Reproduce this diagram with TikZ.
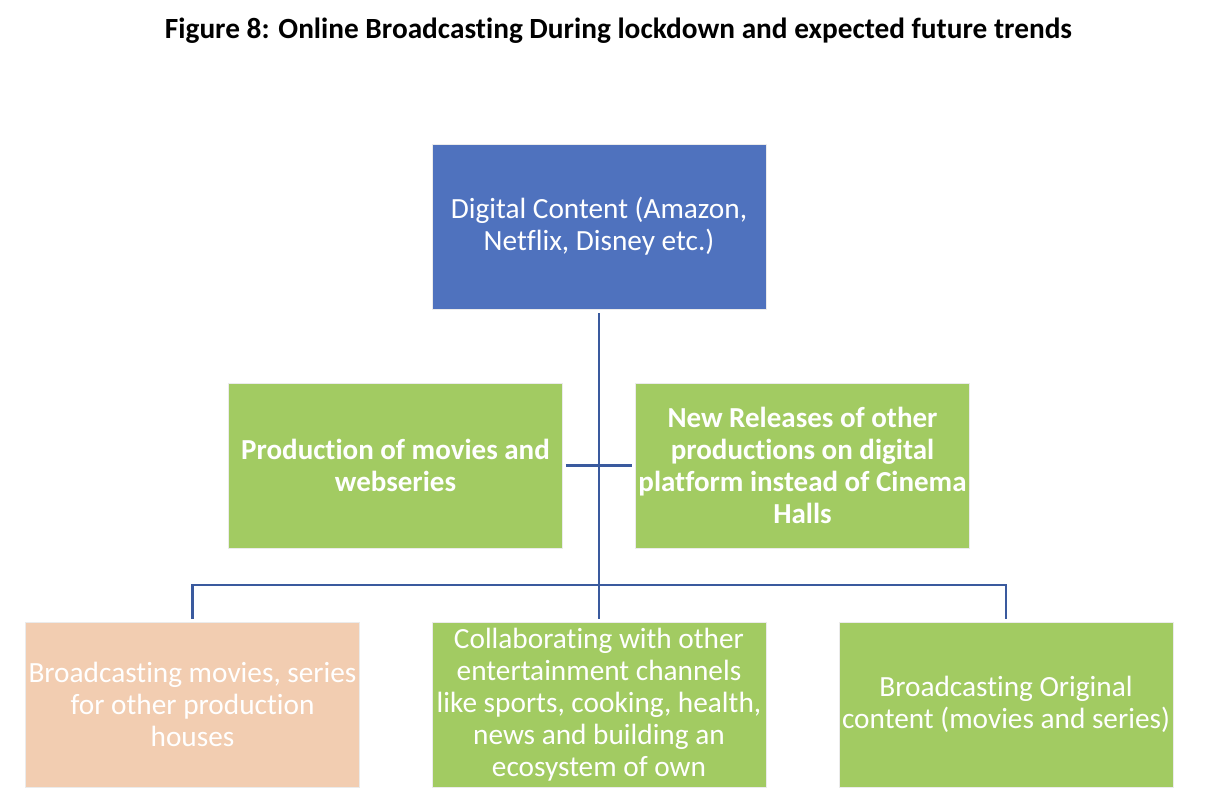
\documentclass[tikz,border=0pt]{standalone}
\usepackage{fontspec}
\setmainfont{Carlito}[Ligatures={NoCommon}]
\usetikzlibrary{calc}
\definecolor{boxblue}{RGB}{79,114,190}
\definecolor{boxgreen}{RGB}{162,203,98}
\definecolor{boxpeach}{RGB}{242,205,177}
\definecolor{linkblue}{RGB}{58,90,158}
\tikzset{
  box/.style={draw=white!92!black, line width=0.5pt, minimum width=334pt, minimum height=165pt,
    inner sep=0pt, align=center, text=white, font=\fontsize{29.3}{32}\selectfont},
  bluebox/.style={box, fill=boxblue},
  greenbox/.style={box, fill=boxgreen},
  peachbox/.style={box, fill=boxpeach},
  boldtxt/.style={font=\fontsize{29}{32}\selectfont\bfseries},
  link/.style={draw=linkblue, line width=2.9pt}
}
\begin{document}
\begin{tikzpicture}[x=1pt,y=-1pt]
\useasboundingbox (0,0) rectangle (1218,808);
\node[font=\fontsize{29.3}{34}\selectfont\bfseries] (title) at (618.5,31) {Figure 8: Online Broadcasting During lockdown and expected future trends};
\node[bluebox] (top) at (599,226.5) {Digital Content (Amazon,\\Netflix, Disney etc.)};
\node[greenbox, boldtxt] (prod) at (395.5,465.5) {Production of movies and\\webseries};
\node[greenbox, boldtxt] (rel) at (802.5,465.5) {New Releases of other\\productions on digital\\platform instead of Cinema\\Halls};
\node[peachbox] (bl) at (192.5,704.5) {Broadcasting movies, series\\for other production\\houses};
\node[greenbox] (bm) at (599,704.5) {Collaborating with other\\entertainment channels\\like sports, cooking, health,\\news and building an\\ecosystem of own};
\node[greenbox] (br) at (1006,704.5) {Broadcasting Original\\content (movies and series)};
\coordinate (bus) at (599,585);
\draw[link, shorten <=4pt, shorten >=3pt] (top.south) -- (bm.north);
\draw[link, shorten <=3pt, shorten >=3pt] (prod.east) -- (rel.west);
\draw[link, shorten <=3pt, shorten >=3pt] (bl.north) |- (bus) -| (br.north);
\end{tikzpicture}
\end{document}
